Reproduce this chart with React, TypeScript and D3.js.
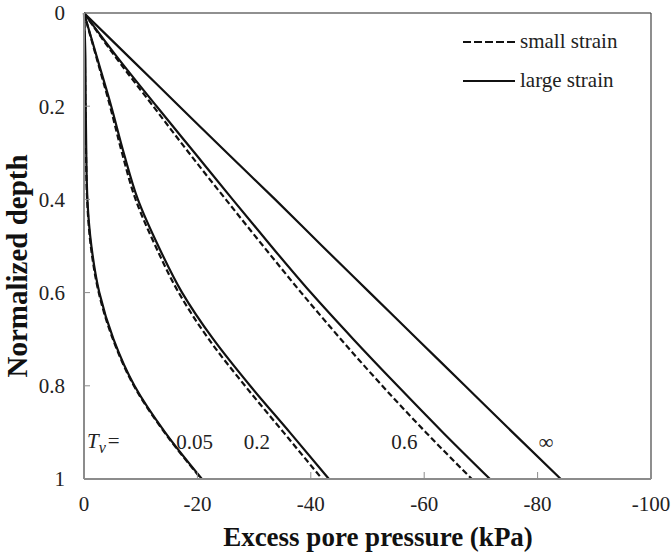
import React from "react";
import * as d3 from "d3";

// Normalized depth at which each curve was read
const depth = [0, 0.1, 0.2, 0.3, 0.4, 0.5, 0.6, 0.7, 0.8, 0.9, 1.0];

// Excess pore pressure (kPa) – small strain (dashed) / large strain (solid)
const tv005Small = [0, -0.15, -0.25, -0.35, -0.55, -1.2, -2.6, -5.1, -8.8, -14.2, -20.7];
const tv005Large = [0, -0.25, -0.3, -0.4, -0.6, -1.3, -2.7, -5.2, -8.9, -14.3, -20.8];
const tv02Small = [0, -2.3, -4.6, -6.7, -9.1, -12.6, -16.7, -22.0, -28.4, -35.2, -42.0];
const tv02Large = [0, -2.4, -4.8, -7.0, -9.5, -13.1, -17.3, -22.8, -29.3, -36.3, -43.2];
const tv06Small = [0, -5.9, -12.2, -18.5, -25.0, -31.6, -38.3, -45.3, -52.6, -60.3, -68.4];
const tv06Large = [0, -6.2, -12.8, -19.5, -26.2, -33.0, -40.0, -47.5, -55.3, -63.3, -71.6];
const tvInfLarge = [0, -8.4, -16.8, -25.2, -33.7, -42.0, -50.4, -58.8, -67.2, -75.6, -84.1];

const xTicks = [0, -20, -40, -60, -80, -100];
const yTicks = [0, 0.2, 0.4, 0.6, 0.8, 1];

const tvLabels = [
  { text: "0.05", value: -19.5 },
  { text: "0.2", value: -30.5 },
  { text: "0.6", value: -56.5 },
  { text: "∞", value: -81.5 },
];
const tvLabelDepth = 0.92;

const seriesList = [
  { values: tv005Small, dashed: true },
  { values: tv005Large, dashed: false },
  { values: tv02Small, dashed: true },
  { values: tv02Large, dashed: false },
  { values: tv06Small, dashed: true },
  { values: tv06Large, dashed: false },
  { values: tvInfLarge, dashed: false },
];

const legendItems = [
  { label: "small strain", dashed: true },
  { label: "large strain", dashed: false },
];

const FONT = "'Liberation Serif'";

export default function App() {
  const W = 671;
  const H = 553;
  const left = 84, right = 651, top = 13, bottom = 479;
  const x = d3.scaleLinear().domain([0, -100]).range([left, right]);
  const y = d3.scaleLinear().domain([0, 1]).range([top, bottom]);

  const line = d3
    .line<[number, number]>()
    .x((p) => x(p[0]))
    .y((p) => y(p[1]))
    .curve(d3.curveMonotoneY);

  const axisColor = "#8c8c8c";

  return (
    <svg
      width={W}
      height={H}
      style={{ position: "absolute", left: 0, top: 0, background: "#fff", fontFamily: FONT }}
    >
      <rect x={0} y={0} width={W} height={H} fill="#fff" />
      {/* top and right border */}
      <line x1={left} y1={top} x2={right} y2={top} stroke="#222" strokeWidth={1.2} />
      <line x1={right} y1={top} x2={right} y2={bottom} stroke="#444" strokeWidth={1.2} />

      {/* curves */}
      {seriesList.map((s, i) => (
        <path
          key={i}
          d={line(s.values.map((v, k) => [v, depth[k]]) as [number, number][]) || ""}
          fill="none"
          stroke="#111"
          strokeWidth={2.2}
          strokeDasharray={s.dashed ? "6,3" : undefined}
        />
      ))}

      {/* axes */}
      <line x1={left} y1={top} x2={left} y2={bottom} stroke={axisColor} strokeWidth={2} />
      <line x1={left} y1={bottom} x2={right} y2={bottom} stroke={axisColor} strokeWidth={2} />
      {yTicks.map((t) => (
        <g key={"y" + t}>
          <line x1={left} x2={left + 6} y1={y(t)} y2={y(t)} stroke={axisColor} strokeWidth={1} />
          <text x={left - 19} y={y(t)} dy="0.35em" textAnchor="end" fontSize={21} fill="#222">
            {String(t)}
          </text>
        </g>
      ))}
      {xTicks.map((t) => (
        <g key={"x" + t}>
          <line x1={x(t)} x2={x(t)} y1={bottom} y2={bottom - 7} stroke={axisColor} strokeWidth={1} />
          <text x={x(t)} y={511} textAnchor="middle" fontSize={21} fill="#222">
            {String(t)}
          </text>
        </g>
      ))}

      {/* axis titles */}
      <text x={378} y={546} textAnchor="middle" fontSize={27} fontWeight="bold" fill="#111">
        Excess pore pressure (kPa)
      </text>
      <text
        transform="translate(27,266) rotate(-90)"
        textAnchor="middle"
        fontSize={29}
        fontWeight="bold"
        fill="#111"
      >
        Normalized depth
      </text>

      {/* Tv annotations */}
      <text x={87} y={448} fontSize={21} fill="#222">
        <tspan fontStyle="italic">T</tspan>
        <tspan fontStyle="italic" fontSize={16} dy={5}>v</tspan>
        <tspan dy={-5} dx={2}>=</tspan>
      </text>
      {tvLabels.map((l) => (
        <text
          key={l.text}
          x={x(l.value)}
          y={y(tvLabelDepth)}
          dy="0.35em"
          textAnchor="middle"
          fontSize={21}
          fill="#222"
        >
          {l.text}
        </text>
      ))}

      {/* legend */}
      {legendItems.map((item, i) => {
        const ly = 42 + i * 39;
        return (
          <g key={item.label}>
            <line
              x1={463}
              x2={515}
              y1={ly}
              y2={ly}
              stroke="#111"
              strokeWidth={2.2}
              strokeDasharray={item.dashed ? "8,3" : undefined}
            />
            <text x={520} y={ly} dy="0.3em" fontSize={21} fill="#222">
              {item.label}
            </text>
          </g>
        );
      })}
    </svg>
  );
}
